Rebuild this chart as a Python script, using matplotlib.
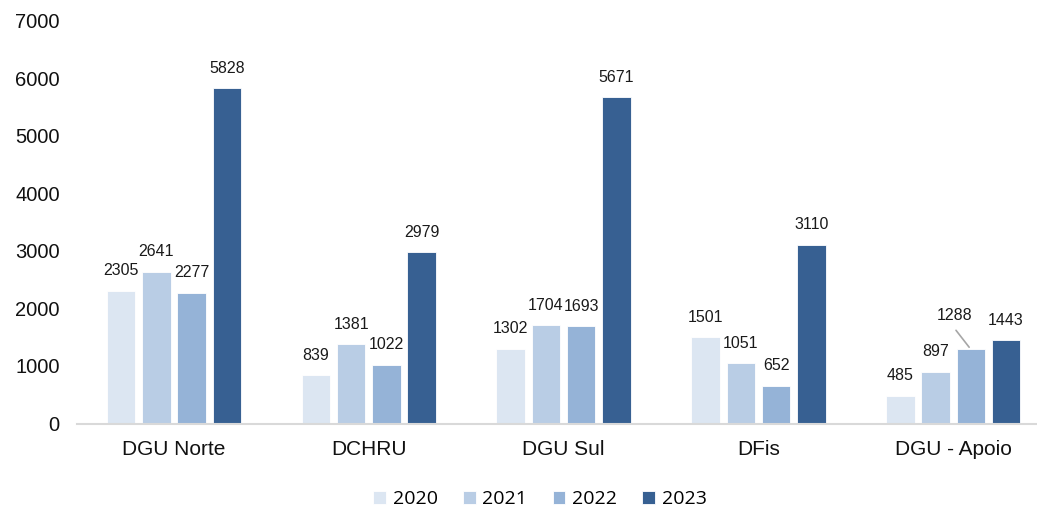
import numpy as np
import matplotlib.pyplot as plt

# data
categories = ['DGU Norte', 'DCHRU', 'DGU Sul', 'DFis', 'DGU - Apoio']
years = ['2020', '2021', '2022', '2023']
v2020 = [2305, 839, 1302, 1501, 485]
v2021 = [2641, 1381, 1704, 1051, 897]
v2022 = [2277, 1022, 1693, 652, 1288]
v2023 = [5828, 2979, 5671, 3110, 1443]
series = [v2020, v2021, v2022, v2023]

colors = ['#dce6f2', '#b9cde5', '#95b3d7', '#376092']

plt.rcParams['font.family'] = ['Liberation Sans', 'DejaVu Sans']

fig = plt.figure(figsize=(10.37, 5.09), dpi=100)
ax = fig.add_axes([76.5 / 1037, 1 - 423.5 / 509, (1037 - 76.5) / 1037, (423.5 - 20.8) / 509])

x = np.arange(len(categories))
pitch = 0.181
width = 0.146
for i, vals in enumerate(series):
    pos = x + (i - 1.5) * pitch
    ax.bar(pos, vals, width=width, color=colors[i], edgecolor='white',
           linewidth=0.6, label=years[i], zorder=2)
    for j, v in enumerate(vals):
        dx, dy = 0, 20
        if i == 2 and j == 4:
            # the one label Excel pushed aside, with its leader line
            dx, dy = -16, 34
            ax.annotate('', xy=(pos[j], v), xytext=(pos[j] - 0.085, v + 370),
                        arrowprops=dict(arrowstyle='-', color='#a6a6a6', lw=1.2))
        ax.annotate(str(v), xy=(pos[j], v), xytext=(dx * 0.72, dy * 0.72),
                    textcoords='offset points', ha='center', va='center',
                    fontsize=11.5, color='#1a1a1a')

ax.set_xlim(-0.5, 4.43)
ax.set_ylim(0, 7000)
ax.set_yticks(range(0, 7001, 1000))
ax.set_xticks(x)
ax.set_xticklabels(categories, fontsize=15)
ax.tick_params(axis='both', length=0, colors='#111111')
ax.tick_params(axis='y', labelsize=14.5, pad=12)
ax.tick_params(axis='x', pad=12)
for s in ['top', 'right', 'left']:
    ax.spines[s].set_visible(False)
ax.spines['bottom'].set_color('#d9d9d9')
ax.spines['bottom'].set_linewidth(1.5)

leg = fig.legend(loc='center', bbox_to_anchor=(540 / 1037, 1 - 499 / 509), ncol=4,
                 frameon=False, prop={'family': 'Open Sans', 'size': 14},
                 handlelength=0.65, handleheight=0.65, handletextpad=0.35,
                 columnspacing=1.3)

fig.savefig('out.png', dpi=100)
